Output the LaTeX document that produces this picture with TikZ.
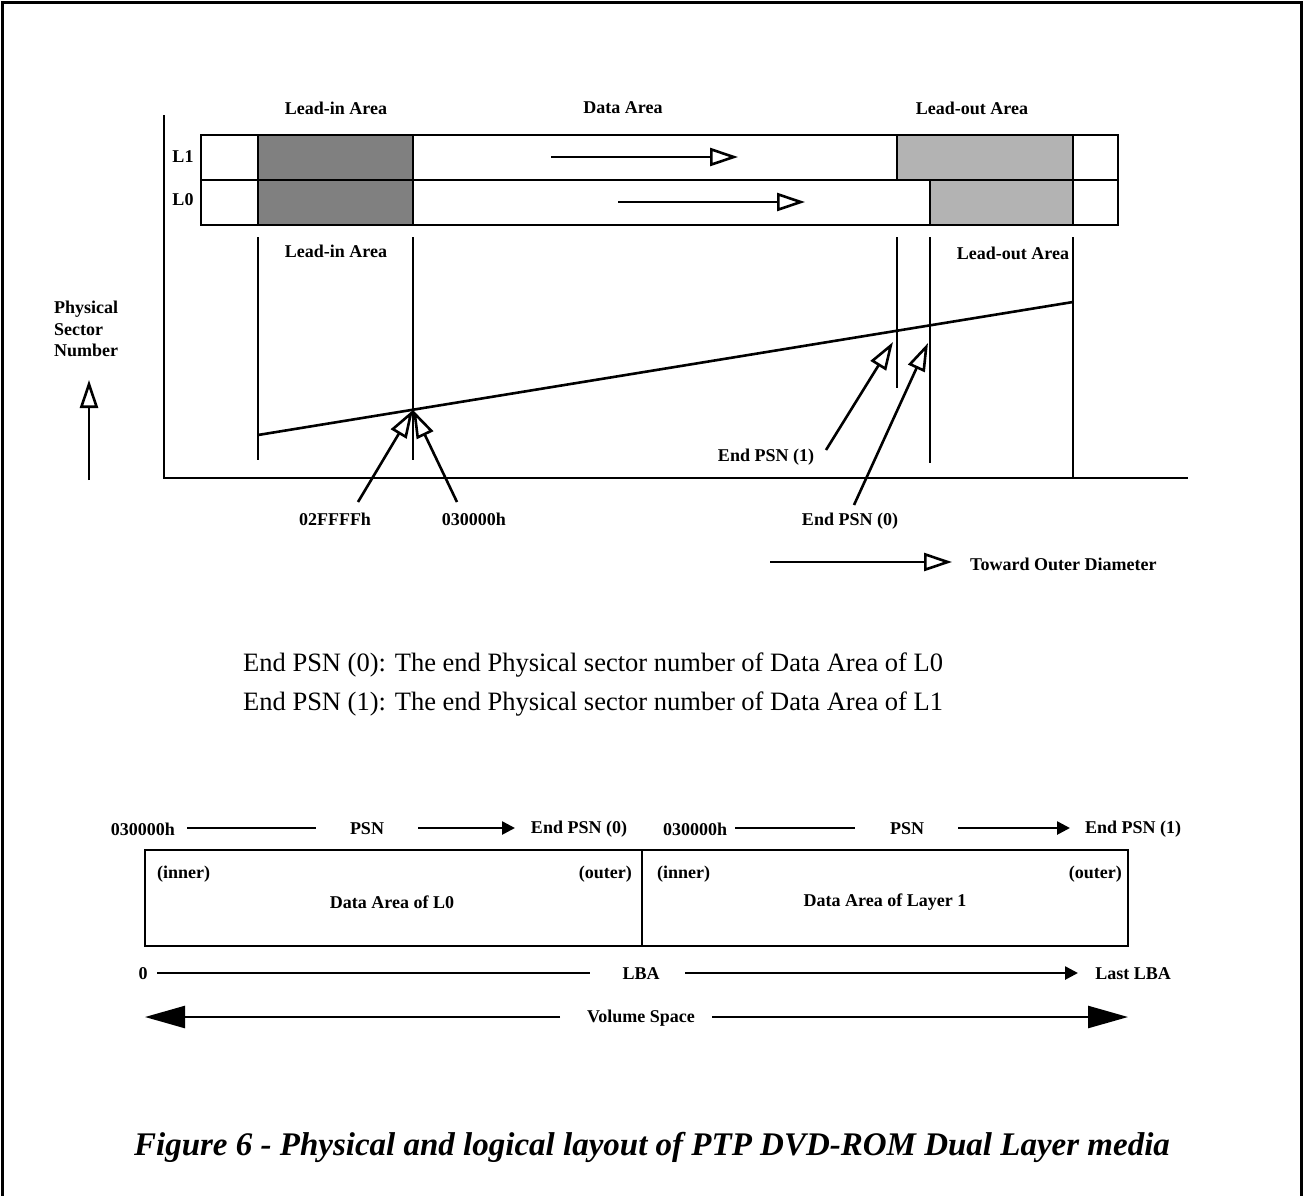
\documentclass[tikz,border=0pt]{standalone}
\usepackage{fontspec}
\setmainfont{Liberation Serif}
\usetikzlibrary{arrows.meta}
\definecolor{dk}{HTML}{808080}
\definecolor{lt}{HTML}{B3B3B3}
\tikzset{
  lbl/.style={font=\fontsize{18}{21.5}\selectfont\bfseries, inner sep=0pt},
  txt/.style={font=\fontsize{26.5}{30}\selectfont, inner sep=0pt, anchor=west},
  captxt/.style={font=\fontsize{33}{36}\selectfont\bfseries\itshape, inner sep=0pt},
  thk/.style={line width=2.6pt},
  oarr/.style={thk, -{Triangle[open,length=28pt,width=18pt]}},
  farr/.style={thk, -{Triangle[length=13pt,width=13pt]}},
  barr/.style={thk, -{Triangle[length=40pt,width=22pt]}},
}
\begin{document}
\begin{tikzpicture}[x=1pt,y=-1pt]
\useasboundingbox (0,0) rectangle (1304,1195);
% frame
\draw[line width=3pt] (2,1196) -- (2,2.5) -- (1301.5,2.5) -- (1301.5,1196);

% axes
\coordinate (ytop) at (164,115);
\coordinate (orig) at (164,478);
\coordinate (xend) at (1188,478);
\draw[thk] (ytop) -- (orig) -- (xend);

% strip fills
\fill[dk] (258,135) rectangle (413,225);
\fill[lt] (897,135) rectangle (1073,180);
\fill[lt] (930,180) rectangle (1073,225);
\draw[thk] (201,135) rectangle (1118,225);
\draw[thk] (201,180) -- (1118,180);
\draw[thk] (258,135) -- (258,225);
\draw[thk] (413,135) -- (413,225);
\draw[thk] (897,135) -- (897,180);
\draw[thk] (930,180) -- (930,225);
\draw[thk] (1073,135) -- (1073,225);

% strip arrows
\coordinate (a1s) at (551,157); \coordinate (a1e) at (738,157);
\coordinate (a0s) at (618,202); \coordinate (a0e) at (805,202);
\draw[oarr] (a1s) -- (a1e);
\draw[oarr] (a0s) -- (a0e);

% labels
\node[lbl] (lia) at (336,108) {Lead-in Area};
\node[lbl] (da) at (623,108) {Data Area};
\node[lbl] (loa) at (972,108) {Lead-out Area};
\node[lbl] (l1) at (183,157) {L1};
\node[lbl] (l0) at (183,200) {L0};
\node[lbl] (lib) at (336,251) {Lead-in Area};
\node[lbl] (lob) at (1013,253) {Lead-out Area};

% vertical lines below
\draw[thk] (258,237) -- (258,460);
\draw[thk] (413,237) -- (413,460);
\draw[thk] (897,237) -- (897,388);
\draw[thk] (930,237) -- (930,463);
\draw[thk] (1073,237) -- (1073,478);

% slanted PSN line
\coordinate (sl0) at (258,435);
\coordinate (sl1) at (1073,302);
\draw[thk] (sl0) -- (sl1);

% marker arrows
\node[lbl] (n02) at (335,519) {02FFFFh};
\node[lbl] (n03) at (474,519) {030000h};
\coordinate (pt03) at (413,410);
\coordinate (t02) at (358,502);
\coordinate (t03) at (457,502);
\draw[oarr] (t02) -- (pt03);
\draw[oarr] (t03) -- (pt03);

\node[lbl] (ep1) at (766,457) {End PSN (1)};
\node[lbl] (ep0) at (850,521) {End PSN (0)};
\coordinate (te1) at (826,450); \coordinate (he1) at (893,342);
\coordinate (te0) at (854,505); \coordinate (he0) at (928,343);
\draw[oarr] (te1) -- (he1);
\draw[oarr] (te0) -- (he0);

% physical sector number
\node[lbl, align=left, anchor=north west] (psn) at (54,301) {Physical\\Sector\\Number};
\coordinate (ua0) at (89,480); \coordinate (ua1) at (89,380);
\draw[oarr] (ua0) -- (ua1);

% toward outer diameter
\coordinate (to0) at (770,562); \coordinate (to1) at (952,562);
\draw[oarr] (to0) -- (to1);
\node[lbl, anchor=west] (tod) at (970,564) {Toward Outer Diameter};

% descriptions
\node[txt] (d0) at (243,665) {End PSN (0): The end Physical sector number of Data Area of L0};
\node[txt] (d1) at (243,704) {End PSN (1): The end Physical sector number of Data Area of L1};

% PSN rows
\node[lbl] (s0) at (143,829) {030000h};
\node[lbl] (p0) at (367,829) {PSN};
\node[lbl] (e0) at (579,829) {End PSN (0)};
\node[lbl] (s1) at (695,829) {030000h};
\node[lbl] (p1) at (907,829) {PSN};
\node[lbl] (e1) at (1133,829) {End PSN (1)};
\draw[thk] (187,828) -- (316,828);
\draw[farr] (418,828) -- (515,828);
\draw[thk] (735,828) -- (855,828);
\draw[farr] (958,828) -- (1070,828);

% data box
\draw[thk] (145,850) rectangle (1128,946);
\draw[thk] (642,850) -- (642,946);
\node[lbl, anchor=west] (in0) at (157,874) {(inner)};
\node[lbl, anchor=east] (ou0) at (632,874) {(outer)};
\node[lbl] (dl0) at (392,902) {Data Area of L0};
\node[lbl, anchor=west] (in1) at (657,874) {(inner)};
\node[lbl, anchor=east] (ou1) at (1122,874) {(outer)};
\node[lbl] (dl1) at (885,902) {Data Area of Layer 1};

% LBA row
\node[lbl] (z) at (143,974) {0};
\node[lbl] (lba) at (641,974) {LBA};
\node[lbl] (llba) at (1133,974) {Last LBA};
\draw[thk] (157,973) -- (590,973);
\draw[farr] (685,973) -- (1078,973);

% volume space
\node[lbl] (vs) at (641,1018) {Volume Space};
\draw[barr] (560,1017) -- (145,1017);
\draw[barr] (712,1017) -- (1128,1017);

% caption
\node[captxt] (capt) at (652,1147) {Figure 6 - Physical and logical layout of PTP DVD-ROM Dual Layer media};
\end{tikzpicture}
\end{document}
